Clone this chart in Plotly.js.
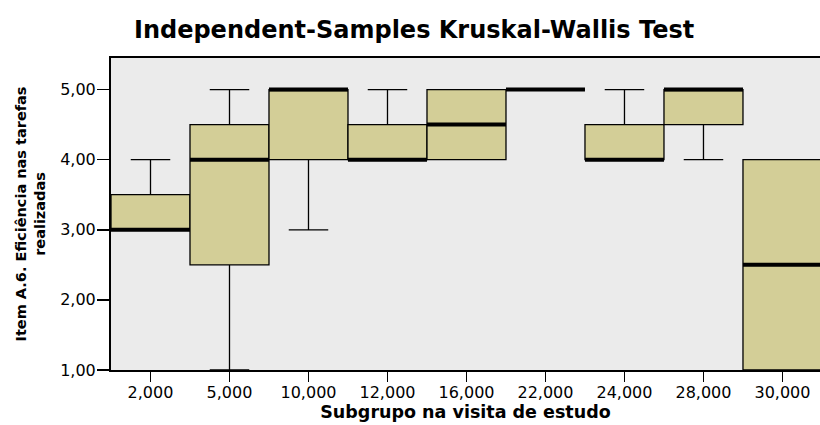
<!DOCTYPE html>
<html>
<head>
<meta charset="utf-8">
<script src="https://cdn.plot.ly/plotly-3.0.1.min.js"></script>
<style>html,body{margin:0;padding:0;background:#fff;}#chart{width:820px;height:425px;}</style>
</head>
<body>
<div id="chart"></div>
<script>
const categories = ['2,000','5,000','10,000','12,000','16,000','22,000','24,000','28,000','30,000'];
const lowerWhisker = [3, 1, 3, 4, 4, 5, 4, 4, 1];
const q1Values     = [3, 2.5, 4, 4, 4, 5, 4, 4.5, 1];
const medianValues = [3, 4, 5, 4, 4.5, 5, 4, 5, 2.5];
const q3Values     = [3.5, 4.5, 5, 4.5, 5, 5, 4.5, 5, 4];
const upperWhisker = [4, 5, 5, 5, 5, 5, 5, 5, 4];
const yTickValues = [1, 2, 3, 4, 5];
const yTickLabels = ['1,00', '2,00', '3,00', '4,00', '5,00'];

const FONT = 'DejaVu Sans, Verdana, sans-serif';

const boxes = {
  type: 'box',
  x: categories,
  q1: q1Values,
  median: medianValues,
  q3: q3Values,
  lowerfence: lowerWhisker,
  upperfence: upperWhisker,
  width: 1,
  whiskerwidth: 0.5,
  fillcolor: '#d3ce97',
  line: {color: '#000000', width: 1.3},
  boxpoints: false,
  hoverinfo: 'skip',
  showlegend: false
};

const medians = {
  type: 'box',
  x: categories,
  q1: medianValues,
  median: medianValues,
  q3: medianValues,
  lowerfence: medianValues,
  upperfence: medianValues,
  width: 1,
  whiskerwidth: 0,
  fillcolor: 'rgba(0,0,0,0)',
  line: {color: '#000000', width: 4},
  boxpoints: false,
  hoverinfo: 'skip',
  showlegend: false
};

const layout = {
  width: 820,
  height: 425,
  margin: {l: 111, r: 0, t: 58, b: 55},
  paper_bgcolor: '#ffffff',
  plot_bgcolor: '#ebebeb',
  boxmode: 'overlay',
  font: {family: FONT, color: '#000000'},
  title: {
    text: '<b>Independent-Samples Kruskal-Wallis Test</b>',
    font: {family: FONT, size: 24, color: '#000000'},
    x: 0.505, xref: 'container', xanchor: 'center',
    y: 0.93, yref: 'container', yanchor: 'middle'
  },
  xaxis: {
    type: 'category',
    range: [-0.5, 8.475],
    showline: true, linecolor: '#000000', linewidth: 2, mirror: true,
    ticks: 'outside', ticklen: 10, tickwidth: 1.5, tickcolor: '#000000',
    tickfont: {family: FONT, size: 16, color: '#000000'},
    ticklabelstandoff: -3,
    showgrid: false, zeroline: false,
    title: {text: '<b>Subgrupo na visita de estudo</b>', font: {family: FONT, size: 17.5, color: '#000000'}, standoff: 3}
  },
  yaxis: {
    range: [1, 5.45],
    tickvals: yTickValues,
    ticktext: yTickLabels,
    showline: true, linecolor: '#000000', linewidth: 2,
    ticks: 'outside', ticklen: 12, tickwidth: 1.5, tickcolor: '#000000',
    tickfont: {family: FONT, size: 16, color: '#000000'},
    ticklabelstandoff: -2,
    showgrid: false, zeroline: false,
    title: {text: '<b>Item A.6. Eficiência nas tarefas<br>realizadas</b>', font: {family: FONT, size: 14.5, color: '#000000'}, standoff: 11}
  }
};

Plotly.newPlot('chart', [boxes, medians], layout, {displayModeBar: false, staticPlot: true});
</script>
</body>
</html>
